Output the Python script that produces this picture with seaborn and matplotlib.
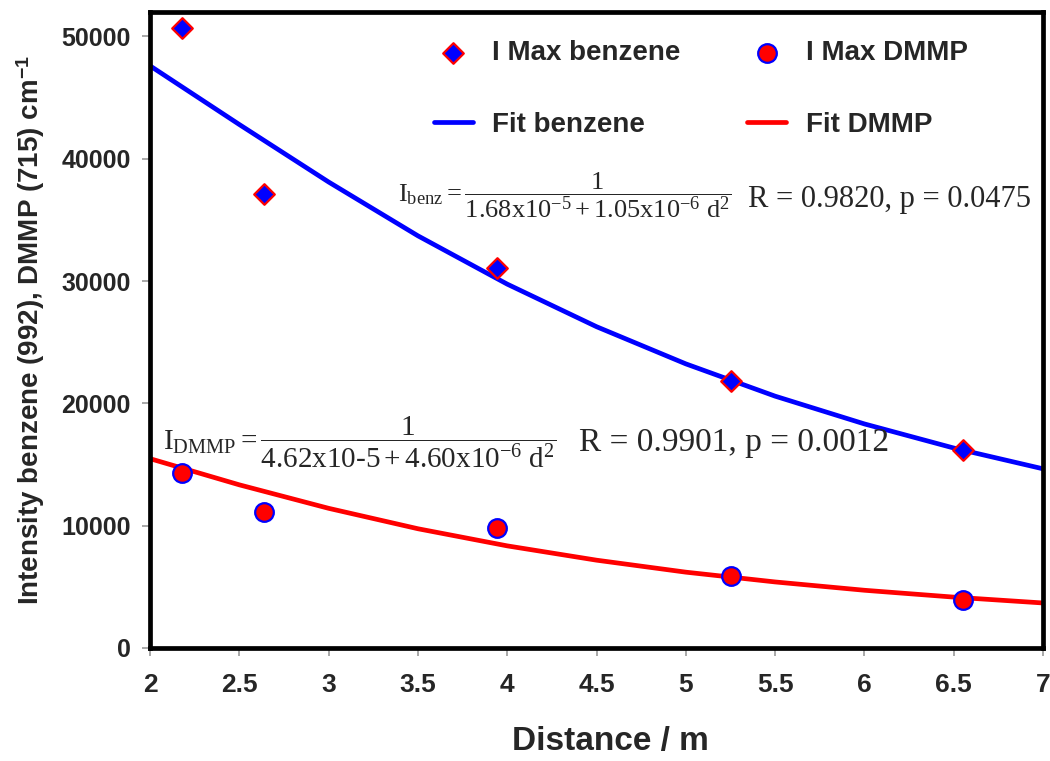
import matplotlib
matplotlib.use("Agg")
import matplotlib.pyplot as plt
import seaborn as sns
import numpy as np

# ---- data ----
dist_meas = [2.18, 2.64, 3.94, 5.25, 6.55]
imax_benz = [50700, 37150, 31100, 21850, 16200]
imax_dmmp = [14300, 11150, 9800, 5900, 3950]

dist_fit = [2.0, 2.5, 3.0, 3.5, 4.0, 4.5, 5.0, 5.5, 6.0, 6.5, 7.0]
fit_benz = [47600, 42800, 38100, 33700, 29750, 26270, 23230, 20590, 18320, 16350, 14650]
fit_dmmp = [15480, 13340, 11420, 9750, 8350, 7180, 6200, 5400, 4720, 4160, 3680]

xticks = [2, 2.5, 3, 3.5, 4, 4.5, 5, 5.5, 6, 6.5, 7]
xtick_labels = ["2", "2.5", "3", "3.5", "4", "4.5", "5", "5.5", "6", "6.5", "7"]
yticks = [0, 10000, 20000, 30000, 40000, 50000]
ytick_labels = ["0", "10000", "20000", "30000", "40000", "50000"]

sns.set_style("white")
plt.rcParams["font.family"] = ["Liberation Sans", "DejaVu Sans"]
plt.rcParams["mathtext.fontset"] = "custom"
plt.rcParams["mathtext.rm"] = "Liberation Serif"
plt.rcParams["mathtext.it"] = "Liberation Serif:italic"
plt.rcParams["mathtext.bf"] = "Liberation Sans:bold"
plt.rcParams["mathtext.default"] = "rm"

fig = plt.figure(figsize=(10.5, 7.61), dpi=100)
ax = fig.add_axes([0.1429, 0.1485, 0.8505, 0.8357])

sns.lineplot(x=dist_fit, y=fit_benz, ax=ax, color="#0000ff", linewidth=3.4,
             label="Fit benzene", zorder=2)
sns.lineplot(x=dist_fit, y=fit_dmmp, ax=ax, color="#ff0000", linewidth=3.4,
             label="Fit DMMP", zorder=2)
sns.scatterplot(x=dist_meas, y=imax_benz, ax=ax, marker="D", s=110,
                color="#0000ff", edgecolor="#ff0000", linewidth=1.6,
                label="I Max benzene", zorder=3)
sns.scatterplot(x=dist_meas, y=imax_dmmp, ax=ax, marker="o", s=180,
                color="#ff0000", edgecolor="#0000ff", linewidth=1.6,
                label="I Max DMMP", zorder=3)

ax.set_xlim(2, 7)
ax.set_ylim(0, 52000)
ax.set_xticks(xticks)
ax.set_xticklabels(xtick_labels, fontweight="bold", fontsize=19)
ax.set_yticks(yticks)
ax.set_yticklabels(ytick_labels, fontweight="bold", fontsize=18)
ax.tick_params(axis="both", direction="out", length=6, width=1.2,
               color="#999999", bottom=True, left=True)
ax.tick_params(axis="x", pad=12)
ax.tick_params(axis="y", pad=8)

for sp in ax.spines.values():
    sp.set_linewidth(3.4)
    sp.set_color("black")

ax.set_xlabel("Distance / m", fontsize=24, fontweight="bold")
ax.xaxis.set_label_coords(0.515, -0.122)
ax.set_ylabel(r"Intensity benzene (992), DMMP (715) cm$^{\mathbf{-1}}$",
              fontsize=20, fontweight="bold", labelpad=10)

# legend
handles, labels = ax.get_legend_handles_labels()
order = ["I Max benzene", "Fit benzene", "I Max DMMP", "Fit DMMP"]
hmap = dict(zip(labels, handles))
leg = ax.legend([hmap[k] for k in order], order, ncol=2, frameon=False,
                loc="upper left", bbox_to_anchor=(0.29, 0.995),
                prop={"weight": "bold", "size": 20},
                scatterpoints=1, handlelength=1.4, handletextpad=0.7,
                columnspacing=2.4, labelspacing=1.65)

# equations
eq_benz = r"$\mathrm{I_{benz}} = \dfrac{1}{1.68\mathrm{x}10^{-5} + 1.05\mathrm{x}10^{-6}\ \mathrm{d}^{2}}$"
eq_dmmp = r"$\mathrm{I_{DMMP}} = \dfrac{1}{4.62\mathrm{x}10\text{-}5 + 4.60\mathrm{x}10^{-6}\ \mathrm{d}^{2}}$"
ax.text(3.39, 37000, eq_benz, fontsize=19, va="center", ha="left")
ax.text(5.35, 36700, "R = 0.9820, p = 0.0475", fontsize=22, va="center",
        ha="left", family="Liberation Serif")
ax.text(2.07, 16800, eq_dmmp, fontsize=21, va="center", ha="left")
ax.text(4.40, 16800, "R = 0.9901, p = 0.0012", fontsize=24, va="center",
        ha="left", family="Liberation Serif")

fig.savefig("out.png", dpi=100)
